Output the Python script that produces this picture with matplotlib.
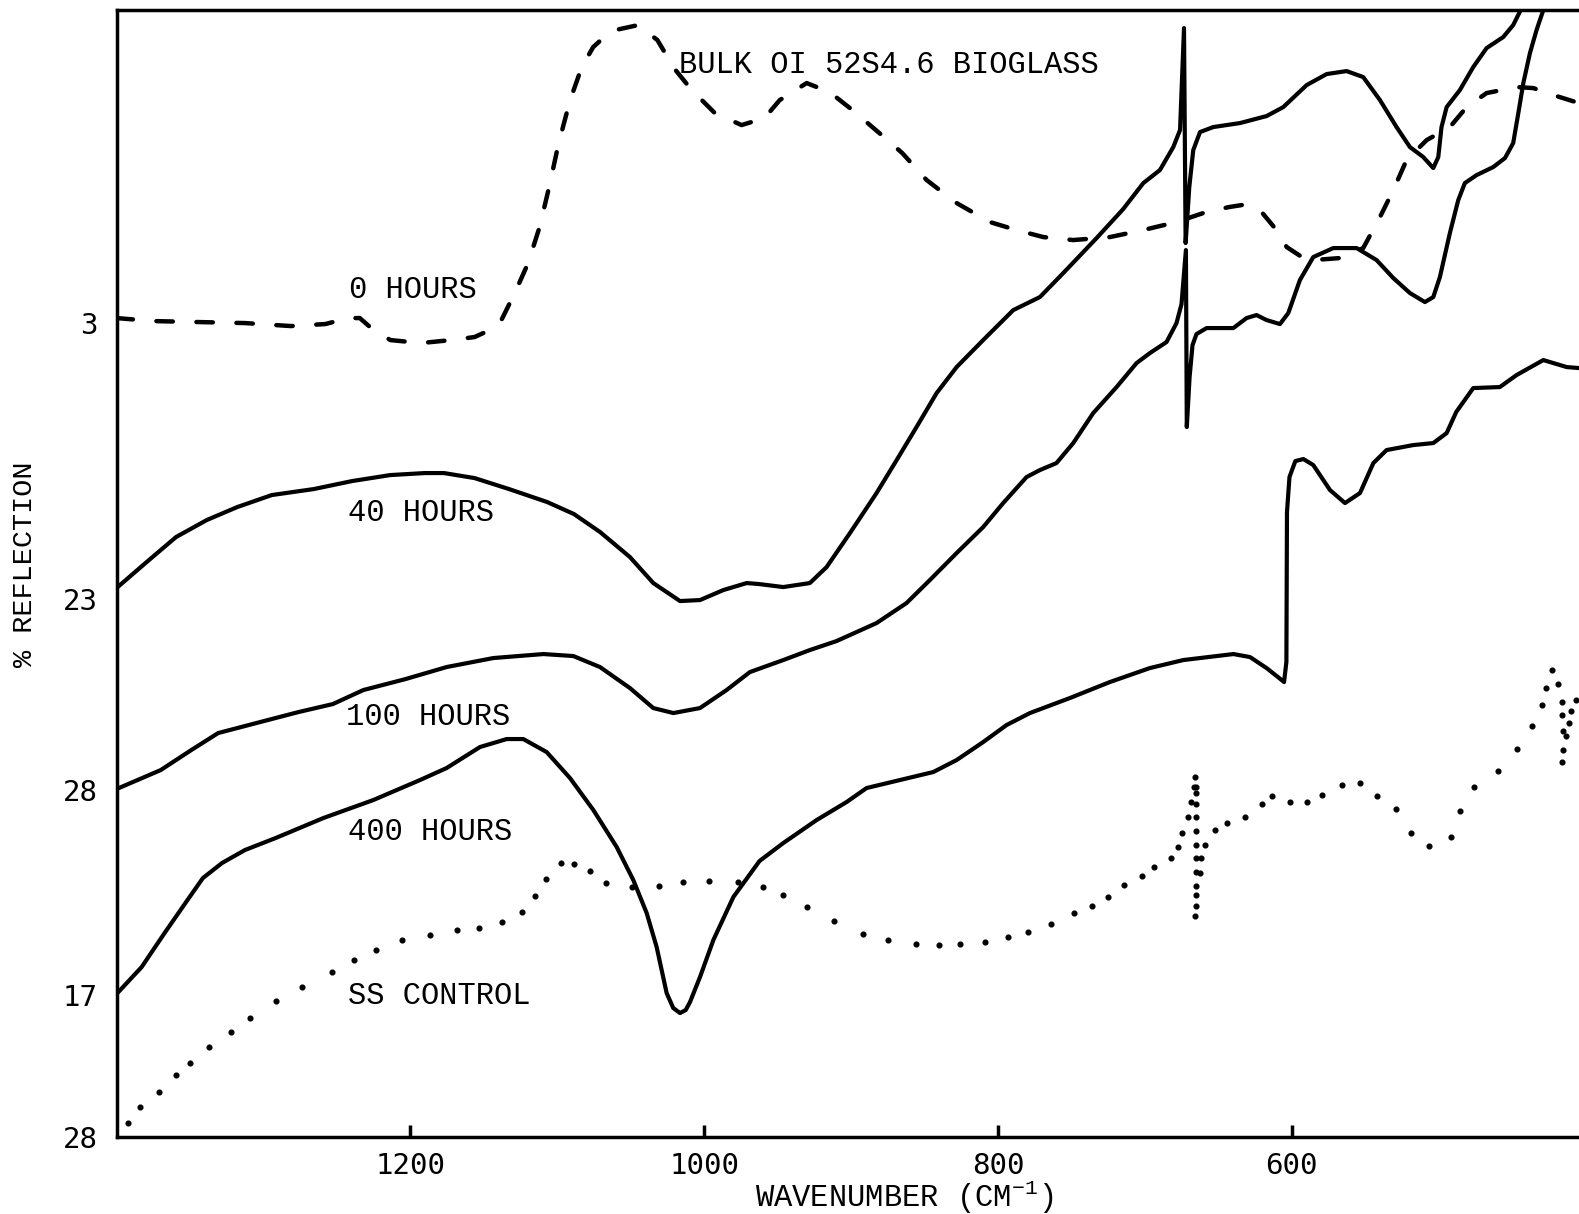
import matplotlib
matplotlib.use('Agg')
import matplotlib.pyplot as plt

plt.rcParams['font.family'] = 'Liberation Mono'
plt.rcParams['mathtext.fontset'] = 'custom'
plt.rcParams['mathtext.rm'] = 'Liberation Mono'
plt.rcParams['mathtext.it'] = 'Liberation Mono'
plt.rcParams['mathtext.default'] = 'rm'

# wavenumber (cm-1) vs reflection, curves stacked with offsets (chart units)
wn_0h = [1400, 1375.1, 1343.8, 1312.6, 1281.3, 1257.9, 1242.2, 1234.4, 1226.6, 1213.6,
         1192.8, 1172.0, 1156.3, 1145.9, 1138.0, 1128.9, 1119.8, 1112.0, 1105.5, 1099.0,
         1091.2, 1083.3, 1075.5, 1068.0, 1060.5, 1044.9, 1031.8, 1020.0, 1008.4, 992.7,
         974.5, 958.9, 948.5, 930.2, 914.6, 899.0, 880.7, 865.1, 848.5, 828.1,
         805.4, 787.3, 769.1, 748.7, 723.7, 701.1, 678.4, 660.2, 642.7, 634.0,
         621.6, 612.0, 603.4, 593.0, 585.3, 567.1, 551.3, 539.9, 530.8, 521.8,
         508.1, 492.3, 480.9, 467.3, 446.9, 435.5, 421.9, 404.4]
r_0h = [81.9, 81.6, 81.5, 81.4, 81.1, 81.3, 81.9, 81.9, 80.9, 79.7,
        79.4, 79.7, 80.0, 80.7, 81.7, 84.4, 87.4, 91.0, 95.0, 99.4,
        103.7, 107.0, 109.0, 110.0, 110.7, 111.2, 109.7, 106.8, 104.7, 102.4,
        101.2, 101.9, 103.7, 105.4, 104.5, 102.7, 100.4, 98.4, 95.7, 93.4,
        91.5, 90.7, 90.0, 89.7, 90.0, 90.7, 91.5, 92.4, 93.0, 93.2,
        92.7, 91.0, 89.0, 88.0, 87.7, 87.9, 88.9, 92.0, 94.7, 97.7,
        99.7, 101.0, 103.0, 104.4, 105.0, 104.9, 104.2, 103.4]

wn_40h = [1400, 1380.3, 1359.5, 1338.6, 1317.8, 1294.3, 1265.7, 1239.6, 1213.6, 1190.0,
          1177.1, 1156.3, 1132.8, 1106.8, 1088.6, 1070.8, 1050.5, 1034.6, 1016.4, 1002.8,
          986.9, 971.0, 962.6, 946.1, 928.0, 916.6, 900.7, 882.6, 868.9, 855.4,
          841.7, 828.1, 810.0, 789.5, 771.4, 755.5, 732.8, 714.7, 701.0, 689.7,
          680.6, 676.0, 673.3, 672.2, 669.7, 667.0, 662.4, 653.4, 635.2, 617.1,
          605.7, 589.8, 576.2, 562.6, 551.3, 539.9, 528.6, 519.5, 510.4, 503.6,
          500.2, 498.0, 494.5, 485.5, 476.4, 467.3, 456.0, 449.2, 444.1]
r_40h = [54.9, 57.4, 60.0, 61.7, 63.0, 64.2, 64.8, 65.6, 66.2, 66.4,
         66.4, 65.9, 64.8, 63.5, 62.3, 60.5, 58.0, 55.4, 53.6, 53.7,
         54.7, 55.4, 55.3, 55.0, 55.4, 57.0, 60.4, 64.4, 67.7, 71.0,
         74.4, 77.0, 79.7, 82.7, 84.0, 86.4, 89.9, 92.8, 95.4, 96.7,
         99.0, 100.7, 110.9, 89.4, 95.0, 98.7, 100.5, 101.0, 101.4, 102.1,
         103.0, 105.2, 106.3, 106.6, 106.0, 103.7, 101.0, 99.0, 98.0, 96.9,
         98.0, 101.0, 103.0, 104.7, 107.0, 108.9, 110.0, 111.2, 112.7]

wn_100h = [1400, 1369.9, 1349.1, 1330.8, 1302.2, 1276.1, 1252.7, 1232.0, 1203.2, 1175.3,
           1143.5, 1109.4, 1089.0, 1070.9, 1050.5, 1034.6, 1020.9, 1002.8, 984.7, 968.8,
           946.1, 928.0, 909.8, 882.6, 862.2, 846.3, 828.1, 810.0, 796.4, 780.5,
           771.4, 760.1, 748.7, 735.1, 719.2, 705.6, 696.5, 685.2, 678.4, 675.0,
           672.0, 671.4, 669.5, 667.5, 664.8, 657.9, 639.7, 630.7, 623.9, 617.1,
           608.0, 602.3, 594.4, 585.3, 571.7, 555.8, 542.2, 530.8, 519.5, 509.3,
           503.6, 499.1, 492.3, 486.6, 482.1, 474.1, 462.8, 454.8, 449.2, 445.7,
           442.3, 437.8, 433.3, 428.7]
r_100h = [34.8, 36.7, 38.7, 40.4, 41.5, 42.5, 43.3, 44.7, 45.8, 47.0,
          47.9, 48.3, 48.1, 47.0, 44.9, 42.9, 42.4, 42.9, 44.7, 46.5,
          47.7, 48.7, 49.6, 51.4, 53.4, 55.7, 58.4, 61.0, 63.4, 66.0,
          66.7, 67.4, 69.4, 72.4, 75.0, 77.4, 78.4, 79.5, 81.4, 83.3,
          88.7, 71.0, 76.0, 79.2, 80.3, 80.9, 80.9, 81.9, 82.2, 81.7,
          81.3, 82.4, 85.7, 88.0, 88.9, 88.9, 87.7, 85.9, 84.4, 83.5,
          84.0, 86.0, 90.4, 93.7, 95.4, 96.2, 97.0, 97.9, 99.4, 102.4,
          105.4, 108.4, 110.7, 112.7]

wn_400h = [1400, 1382.9, 1367.3, 1351.7, 1341.2, 1328.2, 1312.6, 1291.7, 1259.2, 1225.2,
           1193.4, 1175.3, 1152.6, 1134.4, 1123.1, 1107.2, 1091.3, 1075.4, 1059.5, 1048.2,
           1039.1, 1032.3, 1025.5, 1021.0, 1016.4, 1012.5, 1009.6, 1002.8, 993.7, 980.1,
           962.3, 946.1, 923.4, 903.0, 889.4, 866.7, 844.0, 828.1, 810.0, 794.1,
           778.2, 751.0, 723.8, 696.5, 673.8, 639.7, 628.4, 617.1, 608.5, 605.2,
           603.6, 603.4, 603.2, 601.5, 597.5, 592.0, 585.3, 573.9, 563.7, 553.5,
           544.4, 535.4, 517.2, 503.6, 494.5, 488.0, 476.4, 458.3, 446.9, 428.7,
           412.8, 404.4]
r_400h = [14.3, 17.0, 20.4, 23.7, 25.9, 27.4, 28.7, 29.9, 31.9, 33.7,
          35.7, 36.9, 39.0, 39.8, 39.8, 38.5, 35.9, 32.7, 29.0, 25.7,
          22.4, 19.0, 14.4, 12.9, 12.4, 12.7, 13.5, 16.0, 19.7, 24.0,
          27.6, 29.4, 31.7, 33.5, 34.9, 35.7, 36.5, 37.7, 39.5, 41.2,
          42.4, 43.9, 45.5, 46.9, 47.7, 48.3, 48.0, 46.9, 45.9, 45.5,
          47.5, 55.0, 62.5, 66.0, 67.6, 67.8, 67.2, 64.7, 63.4, 64.4,
          67.4, 68.7, 69.2, 69.4, 70.4, 72.5, 74.9, 75.0, 76.2, 77.7,
          77.0, 76.9]

# SS control is drawn as separate dots in the original
wn_ss = [1392.0, 1383.7, 1371.2, 1359.2, 1350.1, 1336.8, 1322.2, 1309.0, 1291.2, 1273.5,
         1253.2, 1238.3, 1223.2, 1205.8, 1186.5, 1168.5, 1153.2, 1137.8, 1124.2, 1115.4,
         1107.6, 1097.1, 1088.6, 1077.4, 1067.0, 1048.9, 1031.0, 1014.1, 996.7, 977.1,
         959.7, 946.4, 929.7, 911.5, 891.7, 874.7, 856.0, 840.4, 825.5, 809.1,
         793.2, 779.7, 764.0, 748.4, 736.2, 724.9, 714.1, 702.1, 693.4, 682.3,
         677.6, 674.7, 670.8, 668.5, 666.4, 665.8, 665.0, 664.8, 664.8, 664.8,
         665.0, 665.0, 665.2, 665.4, 665.2, 665.2, 665.2, 665.6, 662.2, 662.0,
         658.9, 652.2, 643.8, 632.0, 620.2, 613.6, 601.2, 589.4, 579.6, 565.5,
         553.7, 541.7, 529.2, 518.6, 506.3, 491.8, 485.5, 475.9, 459.4, 446.4,
         436.2, 429.9, 427.2, 423.1, 419.0, 416.0, 415.8, 415.1, 415.6, 415.8,
         413.3, 411.5, 409.9, 406.7]
r_ss = [1.4, 3.0, 4.5, 6.2, 7.4, 9.0, 10.5, 11.9, 13.6, 15.0,
        16.5, 17.7, 18.7, 19.7, 20.2, 20.7, 20.9, 21.5, 22.5, 24.1,
        25.8, 27.4, 27.3, 26.6, 25.4, 25.0, 25.1, 25.5, 25.6, 25.5,
        25.0, 24.2, 23.0, 21.6, 20.3, 19.7, 19.3, 19.2, 19.3, 19.5,
        20.0, 20.5, 21.3, 22.4, 23.1, 24.0, 25.2, 26.1, 27.0, 27.9,
        29.0, 30.4, 32.0, 33.5, 35.0, 36.0, 35.0, 34.4, 33.3, 32.0,
        30.6, 29.2, 27.9, 26.5, 25.1, 24.2, 23.1, 22.1, 26.4, 27.9,
        29.2, 30.7, 31.4, 32.0, 33.3, 34.1, 33.5, 33.5, 34.2, 35.2,
        35.4, 34.1, 32.8, 30.4, 29.1, 30.0, 32.6, 35.0, 36.6, 38.8,
        41.1, 43.2, 44.9, 46.7, 45.3, 43.5, 42.2, 40.6, 38.7, 37.5,
        40.1, 41.4, 42.6, 43.7]

# y labels are the starting % reflection of each offset trace
ytick_pos = [81.4, 53.8, 34.7, 14.2, 0.0]
ytick_labels = ['3', '23', '28', '17', '28']
xticks = [1200, 1000, 800, 600]

fig = plt.figure(figsize=(15.79, 12.14), dpi=100)
ax = fig.add_axes([0.0738, 0.0634, 0.9262, 0.9283])

ax.plot(wn_0h, r_0h, color='black', lw=3.2, linestyle=(0, (3.7, 5.3)), dash_capstyle='round')
ax.plot(wn_40h, r_40h, color='black', lw=3.0)
ax.plot(wn_100h, r_100h, color='black', lw=3.0)
ax.plot(wn_400h, r_400h, color='black', lw=3.0)
ax.plot(wn_ss, r_ss, linestyle='none', marker='o', ms=3.4, color='black')

lab = dict(fontsize=22, ha='left', va='center', family='Liberation Mono')
ax.text(1241.7, 84.7, '0 HOURS', **lab)
ax.text(1017.4, 107.2, 'BULK OI 52S4.6 BIOGLASS', **lab)
ax.text(1242.3, 62.4, '40 HOURS', **lab)
ax.text(1243.6, 42.0, '100 HOURS', **lab)
ax.text(1242.3, 30.5, '400 HOURS', **lab)
ax.text(1242.3, 14.1, 'SS CONTROL', **lab)

ax.set_xlim(1400, 404.4)
ax.set_ylim(0, 112.7)

ax.set_xticks(xticks)
ax.set_xticklabels([str(t) for t in xticks], family='DejaVu Sans Mono', fontsize=21)
ax.set_yticks(ytick_pos)
ax.set_yticklabels(ytick_labels, family='DejaVu Sans Mono', fontsize=21)
ax.tick_params(axis='x', direction='in', length=9, width=2.5, pad=11)
ax.tick_params(axis='y', length=0, pad=13.5)

for side in ['left', 'bottom', 'top']:
    ax.spines[side].set_linewidth(2.5)
ax.spines['right'].set_visible(False)

fig.text(904 / 1579, 1 - 1197 / 1214, 'WAVENUMBER (CM$^{-1}$)', fontsize=22,
         ha='center', va='center', family='Liberation Mono')
fig.text(25 / 1579, 1 - 564 / 1214, '% REFLECTION', fontsize=20.5, rotation=90,
         ha='center', va='center', family='Liberation Mono')

fig.savefig('out.png', dpi=100)
